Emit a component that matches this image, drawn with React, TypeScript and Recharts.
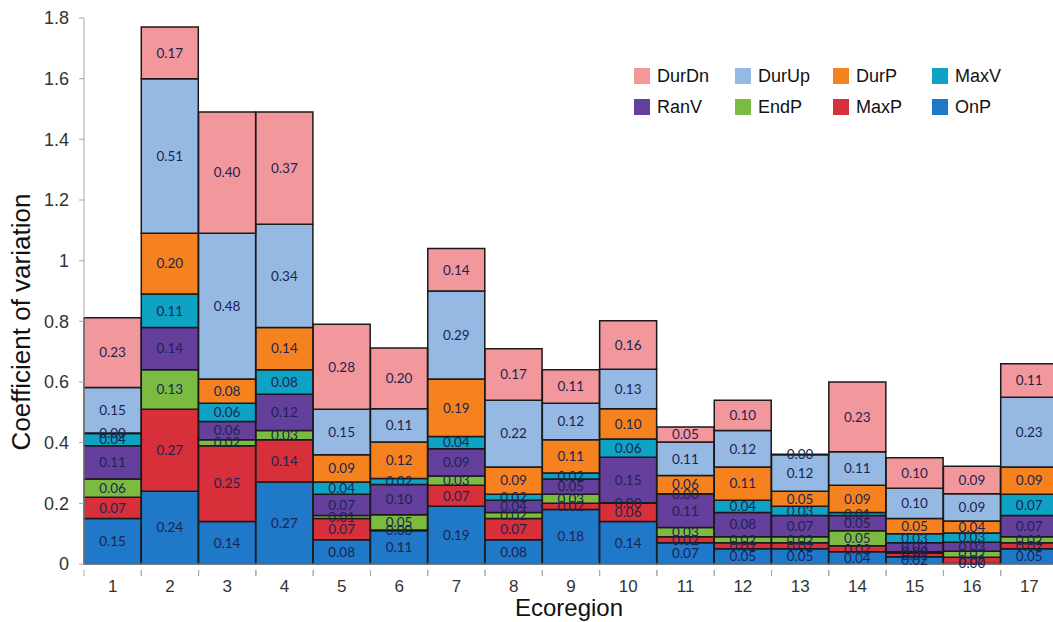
import React from 'react';
import { BarChart, Bar, XAxis, YAxis, LabelList } from 'recharts';

const ecoregions = ['1', '2', '3', '4', '5', '6', '7', '8', '9', '10', '11', '12', '13', '14', '15', '16', '17'];

// stacked bottom -> top; near-zero cells are kept tiny so their 0.00 label still shows
const onP = [0.15, 0.24, 0.14, 0.27, 0.08, 0.11, 0.19, 0.08, 0.18, 0.14, 0.07, 0.05, 0.05, 0.04, 0.024, 0.002, 0.05];
const maxP = [0.07, 0.27, 0.25, 0.14, 0.07, 0.002, 0.07, 0.07, 0.02, 0.06, 0.02, 0.02, 0.02, 0.02, 0.012, 0.02, 0.02];
const endP = [0.06, 0.13, 0.02, 0.03, 0.01, 0.05, 0.03, 0.02, 0.03, 0.002, 0.03, 0.02, 0.02, 0.05, 0.004, 0.02, 0.02];
const ranV = [0.11, 0.14, 0.06, 0.12, 0.07, 0.1, 0.09, 0.04, 0.05, 0.15, 0.11, 0.08, 0.07, 0.05, 0.03, 0.03, 0.07];
const maxV = [0.04, 0.11, 0.06, 0.08, 0.04, 0.02, 0.04, 0.02, 0.02, 0.06, 0.002, 0.04, 0.03, 0.01, 0.03, 0.03, 0.07];
const durP = [0.002, 0.2, 0.08, 0.14, 0.09, 0.12, 0.19, 0.09, 0.11, 0.1, 0.06, 0.11, 0.05, 0.09, 0.05, 0.04, 0.09];
const durUp = [0.15, 0.51, 0.48, 0.34, 0.15, 0.11, 0.29, 0.22, 0.12, 0.13, 0.11, 0.12, 0.12, 0.11, 0.1, 0.09, 0.23];
const durDn = [0.23, 0.17, 0.4, 0.37, 0.28, 0.2, 0.14, 0.17, 0.11, 0.16, 0.05, 0.1, 0.002, 0.23, 0.1, 0.09, 0.11];

const yTicks = [0, 0.2, 0.4, 0.6, 0.8, 1, 1.2, 1.4, 1.6, 1.8];

const series = [
  { key: 'OnP', values: onP, color: '#1F78C8' },
  { key: 'MaxP', values: maxP, color: '#D7303B' },
  { key: 'EndP', values: endP, color: '#7CBB42' },
  { key: 'RanV', values: ranV, color: '#643F9B' },
  { key: 'MaxV', values: maxV, color: '#0EA2C4' },
  { key: 'DurP', values: durP, color: '#F5821F' },
  { key: 'DurUp', values: durUp, color: '#95B9E2' },
  { key: 'DurDn', values: durDn, color: '#F2979C' },
];

const legendOrder = ['DurDn', 'DurUp', 'DurP', 'MaxV', 'RanV', 'EndP', 'MaxP', 'OnP'];

const data = ecoregions.map((name, i) => {
  const row: any = { name };
  series.forEach((s) => {
    row[s.key] = s.values[i];
  });
  return row;
});

const FONT = "'Liberation Sans', Arial, sans-serif";
const BAND = 974 / 17;

const XTick = (props: any) => {
  const { x, y, payload } = props;
  const axisY = y - 2;
  return (
    <g>
      <line x1={x - BAND / 2} x2={x - BAND / 2} y1={axisY} y2={axisY + 6} stroke="#a6a6a6" />
      <line x1={x + BAND / 2} x2={x + BAND / 2} y1={axisY} y2={axisY + 6} stroke="#a6a6a6" />
      <text x={x} y={axisY + 22} textAnchor="middle" fill="#333" fontSize={17} fontFamily={FONT}>
        {payload.value}
      </text>
    </g>
  );
};

const LegendBox = () => {
  const byKey: any = {};
  series.forEach((s) => (byKey[s.key] = s));
  return (
    <div
      style={{
        display: 'grid',
        gridTemplateColumns: '101px 98px 99px 100px',
        rowGap: 9,
        fontFamily: FONT,
        fontSize: 18,
        color: '#111',
      }}
    >
      {legendOrder.map((k) => (
        <div key={k} style={{ display: 'flex', alignItems: 'center', height: 22 }}>
          <span style={{ width: 16, height: 16, background: byKey[k].color, marginRight: 7, display: 'inline-block' }} />
          <span>{k}</span>
        </div>
      ))}
    </div>
  );
};

export default function App() {
  return (
    <div style={{ position: 'absolute', left: 0, top: 0, width: 1053, height: 622, overflow: 'hidden', background: '#fff' }}>
      <BarChart
        width={1068}
        height={622}
        data={data}
        margin={{ top: 18, right: 10, bottom: 0, left: 0 }}
        barCategoryGap={0}
      >
        <XAxis
          dataKey="name"
          height={58}
          tickLine={false}
          axisLine={{ stroke: '#a6a6a6' }}
          tick={<XTick />}
          interval={0}
          label={{
            content: () => (
              <text x={569} y={616} textAnchor="middle" fontSize={24} fill="#111" fontFamily={FONT}>
                Ecoregion
              </text>
            ),
          }}
        />
        <YAxis
          width={84}
          domain={[0, 1.8]}
          ticks={yTicks}
          interval={0}
          tickSize={5}
          tickMargin={10}
          tickLine={{ stroke: '#a6a6a6' }}
          axisLine={{ stroke: '#a6a6a6' }}
          tick={{ fill: '#333', fontSize: 18, fontFamily: FONT }}
          label={{
            content: () => (
              <text
                x={0}
                y={0}
                transform="translate(30 322) rotate(-90)"
                textAnchor="middle"
                fontSize={26}
                fill="#111"
                fontFamily={FONT}
              >
                Coefficient of variation
              </text>
            ),
          }}
        />
        {series.map((s) => (
          <Bar
            key={s.key}
            dataKey={s.key}
            stackId="cv"
            fill={s.color}
            stroke="#1a1a1a"
            strokeWidth={1.5}
            isAnimationActive={false}
          >
            <LabelList
              dataKey={s.key}
              position="center"
              formatter={(v: any) => Number(v).toFixed(2)}
              fill="#1c2452"
              fontSize={13.5}
              fontFamily="Lato, 'Open Sans', sans-serif"
            />
          </Bar>
        ))}
      </BarChart>
      <div style={{ position: 'absolute', top: 65, left: 634 }}>
        <LegendBox />
      </div>
    </div>
  );
}
